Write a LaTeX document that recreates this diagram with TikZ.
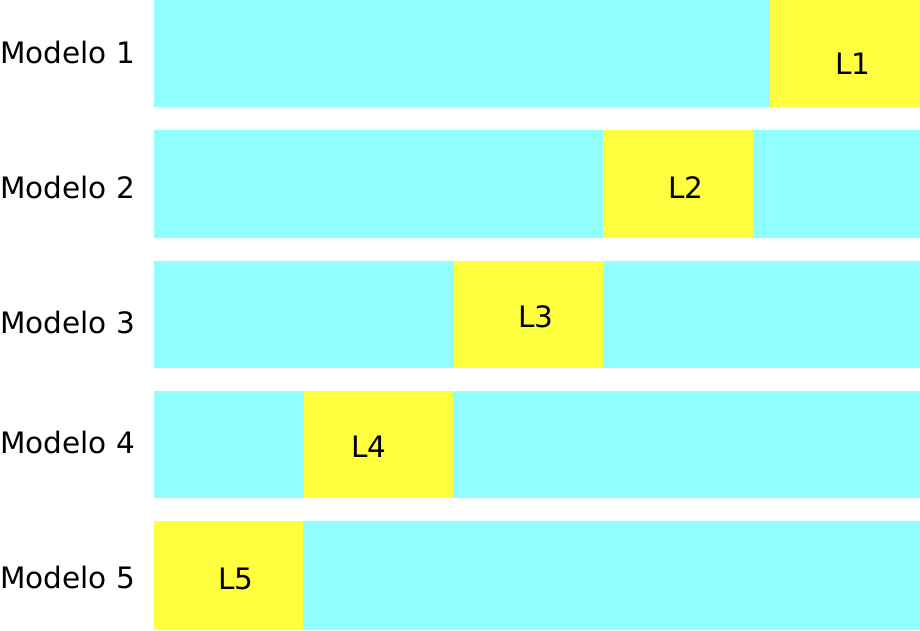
\documentclass[tikz,border=0pt]{standalone}
\usepackage{fontspec}
\setmainfont{DejaVu Sans}
\definecolor{band}{RGB}{143,255,255}
\definecolor{fold}{RGB}{255,255,63}
\tikzset{label text/.style={anchor=base west, inner sep=0pt, font=\fontsize{29.5}{35}\selectfont}}

\begin{document}
\begin{tikzpicture}[x=1pt, y=-1pt]
	\useasboundingbox (0,0) rectangle (920,630);

	% Modelo 1
	\fill[color=band] (154,0) rectangle (920,107);
	\fill[color=fold] (770,0) rectangle (920,107);
	\node[label text] (m1) at (0,63) {Modelo 1};
	\node[label text] (l1) at (835,74) {L1};

	% Modelo 2
	\fill[color=band] (154,130) rectangle (920,238);
	\fill[color=fold] (603,130) rectangle (753,238);
	\node[label text] (m2) at (0,198) {Modelo 2};
	\node[label text] (l2) at (668,198) {L2};

	% Modelo 3
	\fill[color=band] (154,261) rectangle (920,368);
	\fill[color=fold] (454,261) rectangle (603,368);
	\node[label text] (m3) at (0,333) {Modelo 3};
	\node[label text] (l3) at (518,327) {L3};

	% Modelo 4
	\fill[color=band] (154,391) rectangle (920,498);
	\fill[color=fold] (304,391) rectangle (453,498);
	\node[label text] (m4) at (0,453) {Modelo 4};
	\node[label text] (l4) at (351,457) {L4};

	% Modelo 5
	\fill[color=band] (154,521) rectangle (920,630);
	\fill[color=fold] (154,521) rectangle (303,630);
	\node[label text] (m5) at (0,588) {Modelo 5};
	\node[label text] (l5) at (218,589) {L5};
\end{tikzpicture}
\end{document}
